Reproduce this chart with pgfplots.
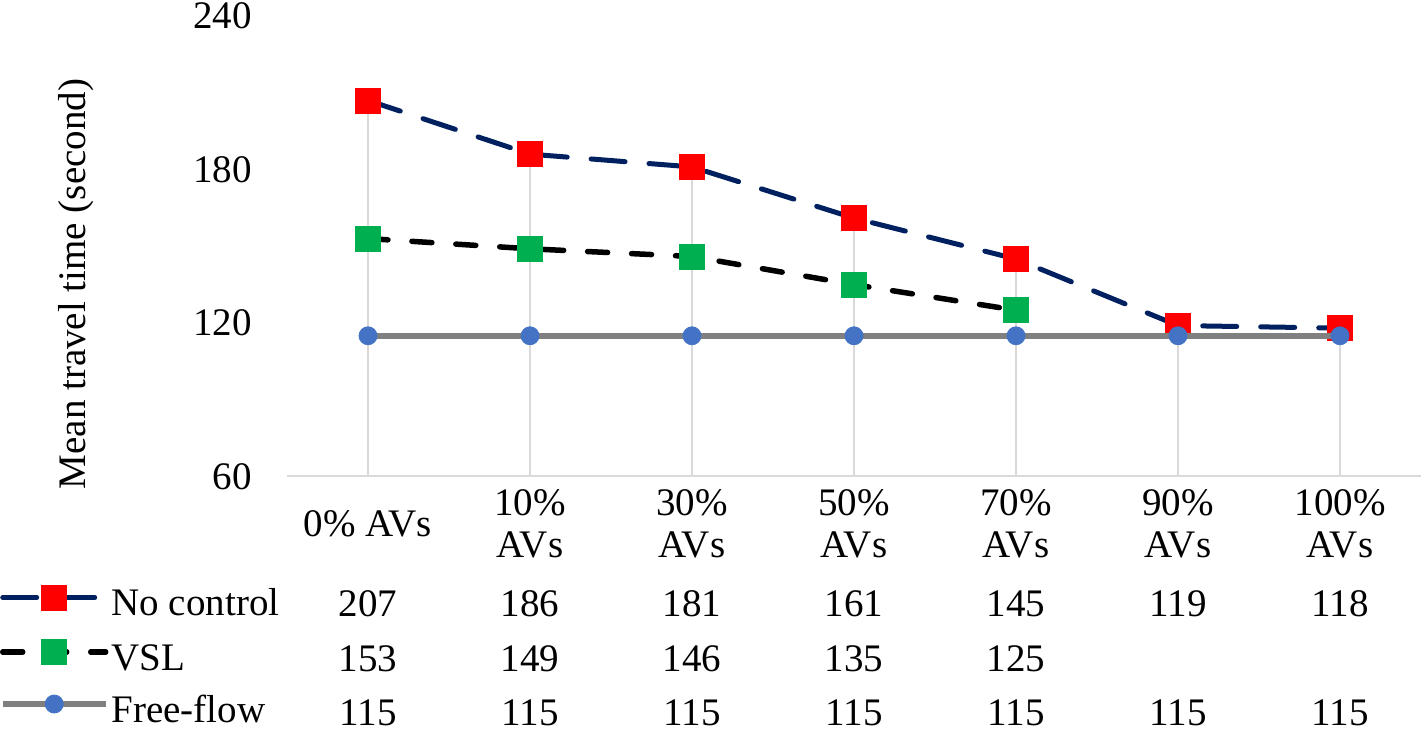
\documentclass[border=0pt]{standalone}
\usepackage{fontspec}
\setmainfont{Liberation Serif}
\usepackage{pgfplots}
\pgfplotsset{compat=1.18}
\usetikzlibrary{calc}
\definecolor{navy}{HTML}{002060}
\definecolor{redm}{HTML}{FF0000}
\definecolor{greenm}{HTML}{00B050}
\definecolor{bluem}{HTML}{4472C4}
\definecolor{greyl}{HTML}{808080}
\definecolor{gridc}{HTML}{D9D9D9}
\newcommand{\fs}{\fontsize{19.5}{21}\selectfont}
\begin{document}
\fs
\begin{tikzpicture}[font=\fs]
\begin{axis}[
 scale only axis, width=567pt, height=230.25pt,
 xmin=-0.5, xmax=6.5, ymin=60, ymax=240,
 ytick={60,120,180,240},
 xtick={0,...,6},
 xticklabels={0\% AVs, 10\%\\AVs, 30\%\\AVs, 50\%\\AVs, 70\%\\AVs, 90\%\\AVs, 100\%\\AVs},
 xticklabel style={align=center, anchor=center, inner sep=0pt, yshift=-23.75pt, font=\fs},
 yticklabel style={anchor=east, inner sep=0pt, xshift=-17.5pt, font=\fs},
 /pgf/number format/assume math mode=true,
 major tick length=0pt,
 axis x line*=bottom, axis y line*=left,
 x axis line style={draw=gridc, line width=1pt, -},
 y axis line style={draw=none, -},
 ylabel={Mean travel time (second)},
 ylabel style={at={(rel axis cs:-0.186,0.418)}, anchor=center, font=\fs},
 clip mode=individual,
 legend cell align=left,
 legend style={at={(rel axis cs:0,0)}, anchor=north west, xshift=-143.5pt, yshift=-54.25pt,
   draw=none, fill=none, inner sep=0pt, outer sep=0pt, row sep=8pt, font=\fs,
   nodes={inner sep=0pt, text height=14pt, text depth=4pt},
   /tikz/every odd column/.append style={column sep=1.5pt}},
 legend image code/.code={\draw[#1, mark repeat=2, mark phase=2] plot coordinates {(0pt,4pt) (25.75pt,4pt) (51.5pt,4pt)};},
]
\addplot[forget plot, ycomb, draw=gridc, line width=0.75pt, mark=none] coordinates {(0,207)(1,186)(2,181)(3,161)(4,145)(5,119)(6,118)};
\addplot[navy, line width=2.5pt, dash pattern=on 17pt off 12pt, line cap=round, mark=square*, mark size=6.25pt, mark options={solid, draw=redm, fill=redm, line width=0.4pt}]
 coordinates {(0,207)(1,186)(2,181)(3,161)(4,145)(5,119)(6,118)};
\addlegendentry{No control}
\addplot[black, line width=2.75pt, dash pattern=on 10pt off 12pt, line cap=round, mark=square*, mark size=6.25pt, mark options={solid, draw=greenm, fill=greenm, line width=0.4pt}]
 coordinates {(0,153)(1,149)(2,146)(3,135)(4,125)};
\addlegendentry{VSL}
\addplot[greyl, line width=2.75pt, mark=*, mark size=4.5pt, mark options={solid, draw=bluem, fill=bluem, line width=0.4pt}]
 coordinates {(0,115)(1,115)(2,115)(3,115)(4,115)(5,115)(6,115)};
\addlegendentry{Free-flow}
\coordinate (sw) at (rel axis cs:0,0);
\coordinate (ne) at (rel axis cs:1,1);
% data table
\node[anchor=base, yshift=-70pt] at (axis cs:0,60) {207};
\node[anchor=base, yshift=-70pt] at (axis cs:1,60) {186};
\node[anchor=base, yshift=-70pt] at (axis cs:2,60) {181};
\node[anchor=base, yshift=-70pt] at (axis cs:3,60) {161};
\node[anchor=base, yshift=-70pt] at (axis cs:4,60) {145};
\node[anchor=base, yshift=-70pt] at (axis cs:5,60) {119};
\node[anchor=base, yshift=-70pt] at (axis cs:6,60) {118};
\node[anchor=base, yshift=-97.25pt] at (axis cs:0,60) {153};
\node[anchor=base, yshift=-97.25pt] at (axis cs:1,60) {149};
\node[anchor=base, yshift=-97.25pt] at (axis cs:2,60) {146};
\node[anchor=base, yshift=-97.25pt] at (axis cs:3,60) {135};
\node[anchor=base, yshift=-97.25pt] at (axis cs:4,60) {125};
\node[anchor=base, yshift=-124.5pt] at (axis cs:0,60) {115};
\node[anchor=base, yshift=-124.5pt] at (axis cs:1,60) {115};
\node[anchor=base, yshift=-124.5pt] at (axis cs:2,60) {115};
\node[anchor=base, yshift=-124.5pt] at (axis cs:3,60) {115};
\node[anchor=base, yshift=-124.5pt] at (axis cs:4,60) {115};
\node[anchor=base, yshift=-124.5pt] at (axis cs:5,60) {115};
\node[anchor=base, yshift=-124.5pt] at (axis cs:6,60) {115};
\end{axis}
\pgfresetboundingbox
\path[use as bounding box] ($(sw)+(-143.5pt,-127.5pt)$) rectangle ($(ne)+(0pt,8pt)$);
\end{tikzpicture}
\end{document}
